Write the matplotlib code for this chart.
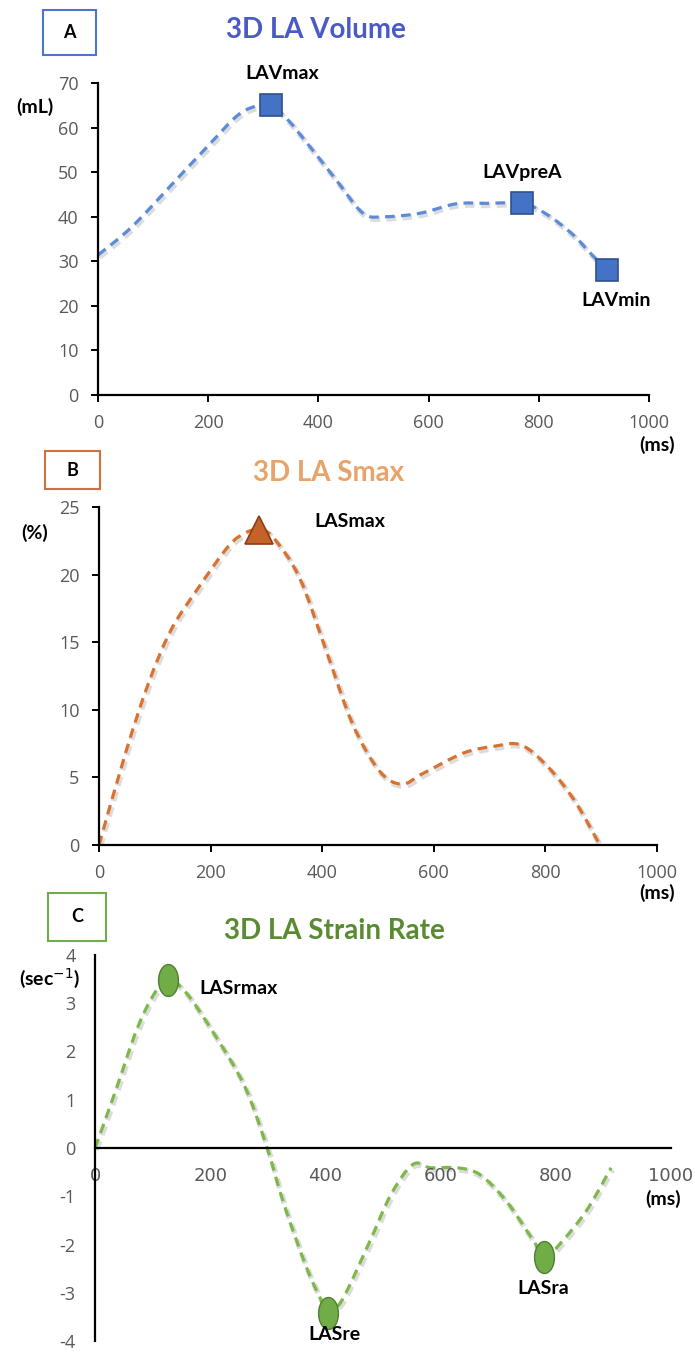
import numpy as np
import matplotlib
matplotlib.use("Agg")
import matplotlib.pyplot as plt
import matplotlib.patheffects as pe
from matplotlib.path import Path
from matplotlib.patches import Rectangle, PathPatch

# panel A - LA volume (ms, mL)
vol_t = [0, 62, 142, 199, 255, 295, 314, 344, 384, 432, 481, 521, 585, 650, 706, 770, 811, 859, 899, 923]
vol_v = [31.4, 37.8, 48.3, 55.8, 62.9, 65.1, 64.9, 61.8, 55.8, 48.3, 40.8, 40.0, 40.8, 42.9, 43.0, 43.0, 40.8, 36.3, 31.1, 28.1]
vol_mark_t = [314, 770, 923]
vol_mark_v = [65, 43, 28]
vol_names = ["LAVmax", "LAVpreA", "LAVmin"]

# panel B - LA strain (ms, %)
str_t = [0, 49, 89, 129, 176, 232, 263, 286, 311, 359, 407, 454, 502, 542, 581, 653, 708, 756, 804, 852, 895]
str_v = [0, 7.0, 12.0, 15.9, 18.9, 22.1, 23.1, 23.3, 22.8, 19.8, 14.4, 9.0, 5.5, 4.5, 5.3, 6.8, 7.3, 7.4, 5.8, 3.3, 0.2]
str_mark_t = [286]
str_mark_v = [23.3]

# panel C - LA strain rate (ms, 1/s)
sr_t = [0, 35, 73, 104, 127, 158, 205, 259, 297, 328, 367, 398, 404, 429, 475, 514, 552, 583, 629, 668, 714, 761, 780, 807, 853, 896]
sr_v = [0, 1.16, 2.47, 3.22, 3.49, 3.22, 2.40, 1.30, 0.07, -1.16, -2.47, -3.29, -3.42, -3.15, -1.99, -0.96, -0.34, -0.41, -0.41, -0.55, -1.10, -1.92, -2.26, -1.99, -1.30, -0.41]
sr_mark_t = [127, 404, 780]
sr_mark_v = [3.49, -3.42, -2.26]
sr_names = ["LASrmax", "LASre", "LASra"]

plt.rcParams["axes.unicode_minus"] = False

W, H = 695, 1353
fig = plt.figure(figsize=(W / 100, H / 100), dpi=100)

tick_font = ["Open Sans", "DejaVu Sans"]
label_font = ["Lato", "DejaVu Sans"]


def px_axes(l, t, r, b):
    return fig.add_axes([l / W, 1 - b / H, (r - l) / W, (b - t) / H])


def ftext(x, y, s, **kw):
    fig.text(x / W, 1 - y / H, s, **kw)


def smooth_line(ax, xs, ys, color):
    # excel-style smoothed line: cubic bezier through the points
    p = np.column_stack([xs, ys]).astype(float)
    ext = np.vstack([p[0], p, p[-1]])
    verts = [p[0]]
    codes = [Path.MOVETO]
    for i in range(len(p) - 1):
        c1 = ext[i + 1] + (ext[i + 2] - ext[i]) / 6
        c2 = ext[i + 2] - (ext[i + 3] - ext[i + 1]) / 6
        verts += [c1, c2, p[i + 1]]
        codes += [Path.CURVE4] * 3
    patch = PathPatch(Path(verts, codes), fill=False, edgecolor=color, lw=2.3,
                      linestyle=(0, (3, 2)), capstyle="butt")
    patch.set_path_effects([pe.SimpleLineShadow(offset=(1, -1.5), shadow_color="0.55", alpha=0.3, linewidth=4),
                            pe.Normal()])
    ax.add_patch(patch)


def style(ax):
    for s in ["top", "right"]:
        ax.spines[s].set_visible(False)
    for s in ["left", "bottom"]:
        ax.spines[s].set_linewidth(1.6)
    ax.tick_params(labelsize=13, labelcolor="#595959", width=1.4, length=5, direction="out", pad=9)
    for lab in ax.get_xticklabels() + ax.get_yticklabels():
        lab.set_fontfamily(tick_font)


def box_label(l, t, r, b, s, col):
    fig.patches.append(Rectangle((l / W, 1 - b / H), (r - l) / W, (b - t) / H,
                                 transform=fig.transFigure, fill=False, edgecolor=col, linewidth=1.5))
    ftext((l + r) / 2, (t + b) / 2, s, ha="center", va="center", fontsize=13, fontweight="bold",
          family=label_font)


def unit(x, y, s):
    ftext(x, y, s, ha="center", va="center", fontsize=14, fontweight="bold", family=label_font)


# ---- A
ax = px_axes(98, 83, 649, 395)
smooth_line(ax, vol_t, vol_v, "#5B8BD9")
ax.plot(vol_mark_t, vol_mark_v, ls="none", marker="s", ms=16.5, mfc="#4472C4", mec="#2F528F", mew=1.2)
ax.set_xlim(0, 1000)
ax.set_ylim(0, 70)
ax.set_xticks(range(0, 1001, 200))
ax.set_yticks(range(0, 71, 10))
style(ax)
for (tx, ty), name in zip([(334, 72.2), (769, 50), (940, 21.3)], vol_names):
    ax.text(tx, ty, name, ha="center", va="center", fontsize=14, fontweight="bold", family=label_font)
box_label(43, 10, 96, 55, "A", "#4F74D0")
ftext(316, 30, "3D LA Volume", ha="center", va="center", fontsize=20, fontweight="bold", color="#4A5BC8", family=label_font)
unit(35, 107, "(mL)")
unit(657, 445, "(ms)")

# ---- B
ax = px_axes(99, 507, 657, 845)
smooth_line(ax, str_t, str_v, "#D9722F")
ax.plot(str_mark_t, str_mark_v, ls="none", marker="^", ms=20, mfc="#C5622A", mec="#8A3E14", mew=1.2)
ax.set_xlim(0, 1000)
ax.set_ylim(0, 25)
ax.set_xticks(range(0, 1001, 200))
ax.set_yticks(range(0, 26, 5))
style(ax)
ax.text(450, 23.9, "LASmax", ha="center", va="center", fontsize=14, fontweight="bold", family=label_font)
box_label(45, 451, 100, 489, "B", "#D0703A")
ftext(329, 473, "3D LA Smax", ha="center", va="center", fontsize=20, fontweight="bold", color="#E8A36A", family=label_font)
unit(35, 533, "(%)")
unit(657, 893, "(ms)")

# ---- C
ax = px_axes(95, 955, 671, 1341)
smooth_line(ax, sr_t, sr_v, "#7DB84A")
circ = Path.unit_circle()
oval = Path(circ.vertices * np.array([0.62, 1.0]), circ.codes)
ax.plot(sr_mark_t, sr_mark_v, ls="none", marker=oval, ms=23, mfc="#70AD47", mec="#507E32", mew=1.0)
ax.set_xlim(0, 1000)
ax.set_ylim(-4, 4)
ax.set_xticks(range(0, 1001, 200))
ax.set_yticks(range(-4, 5, 1))
style(ax)
ax.spines["bottom"].set_position(("data", 0))
ax.tick_params(length=0, pad=14)
for (tx, ty), name in zip([(249, 3.3), (415, -3.87), (778, -2.91)], sr_names):
    ax.text(tx, ty, name, ha="center", va="center", fontsize=14, fontweight="bold", family=label_font)
box_label(48, 893, 106, 941, "C", "#70AD47")
ftext(334, 931, "3D LA Strain Rate", ha="center", va="center", fontsize=20, fontweight="bold", color="#5A8A32", family=label_font)
unit(50, 978, "(sec$^{-1}$)")
unit(663, 1199, "(ms)")

fig.savefig("out.png", dpi=100)
